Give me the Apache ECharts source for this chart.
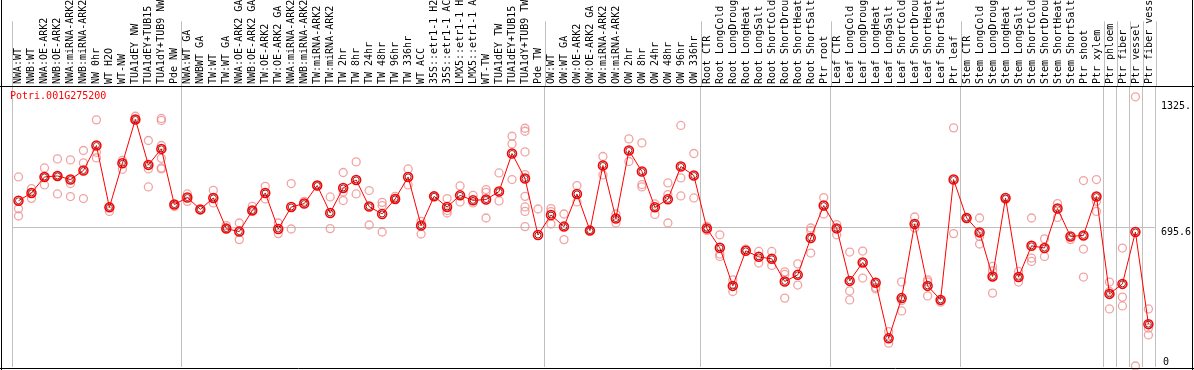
<!DOCTYPE html>
<html><head><meta charset="utf-8">
<script src="https://cdn.jsdelivr.net/npm/echarts@6/dist/echarts.min.js"></script>
<style>html,body{margin:0;padding:0;background:#fff}#c{width:1194px;height:370px}</style>
</head><body><div id="c"></div><script>
const geneTitle = 'Potri.001G275200';
const categories = [
 'NWA:WT','NWB:WT','NWA:OE-ARK2','NWB:OE-ARK2','NWA:miRNA-ARK2','NWB:miRNA-ARK2','NW 0hr','WT H2O','WT-NW','TUA1dEY NW','TUA1dEY+TUB15','TUA1dY+TUB9 NW','Pde NW',
 'NWA:WT GA','NWBWT GA','TW:WT','TW:WT GA','NWA:OE-ARK2 GA','NWB:OE-ARK2 GA','TW:OE-ARK2','TW:OE-ARK2 GA','NWA:miRNA-ARK2','NWB:miRNA-ARK2','TW:miRNA-ARK2','TW:miRNA-ARK2',
 'TW 2hr','TW 8hr','TW 24hr','TW 48hr','TW 96hr','TW 336hr','WT ACC','35S::etr1-1 H2O','35S::etr1-1 ACC','LMX5::etr1-1 H2O','LMX5::etr1-1 ACC','WT-TW','TUA1dEY TW','TUA1dEY+TUB15','TUA1dY+TUB9 TW','Pde TW',
 'OW:WT','OW:WT GA','OW:OE-ARK2','OW:OE-ARK2 GA','OW:miRNA-ARK2','OW:miRNA-ARK2','OW 2hr','OW 8hr','OW 24hr','OW 48hr','OW 96hr','OW 336hr',
 'Root CTR','Root LongCold','Root LongDrought','Root LongHeat','Root LongSalt','Root ShortCold','Root ShortDrought','Root ShortHeat','Root ShortSalt','Ptr root',
 'Leaf CTR','Leaf LongCold','Leaf LongDrought','Leaf LongHeat','Leaf LongSalt','Leaf ShortCold','Leaf ShortDrought','Leaf ShortHeat','Leaf ShortSalt','Ptr leaf',
 'Stem CTR','Stem LongCold','Stem LongDrought','Stem LongHeat','Stem LongSalt','Stem ShortCold','Stem ShortDrought','Stem ShortHeat','Stem ShortSalt','Ptr shoot','Ptr xylem',
 'Ptr phloem','Ptr fiber','Ptr vessel','Ptr fiber vessel'
];
const meanValues = [
 830,869,949,954,936,981,1106,797,1017,1236,1009,1089,811,
 846,787,844,691,676,781,869,689,799,816,906,769,894,934,801,764,839,949,706,852,799,857,832,836,876,1066,941,659,
 759,701,864,681,1006,741,1081,976,797,837,1001,956,
 692,595,405,580,550,540,427,460,644,806,
 692,430,522,421,143,344,714,405,335,936,
 744,672,452,844,449,605,594,791,652,657,851,
 365,415,674,214
];
const replicateValues = [
 [949,790,754],[891,842],[994,909,949],[1039,864,954],[1034,851,916],[1081,1019,841],[1234,1072,1044],[777,797],[1032,987],[1252,1236],[1131,989,899],[1241,1231,1106,1042,994,989],[811,801],
 [864,827],[787],[882,819],[706,691],[719,636],[802,781],[902,839],[719,666],[916,689],[827],[906],[849,691],[971,874,831],[1024,864],[881,709],[822,806,674],[852,839],[989,909],[727,664],[852],[841,781,769],[904,824],[857,819],[886,872,744],[969,829],[1152,1114,936],[1192,1177,1074,961,852,799,777,701],[789],
 [791,776,714],[764,636],[906,824],[681],[1051,959],[764,719],[1139,1026],[1119,911,899],[814,762],[919,861,719],[1206,944,854],[1066,844],
 [702,682],[660,564,552],[435,377],[589],[577,519],[577,507],[475,462,344],[515,409],[694,681,569],[846,764],
 [711,660],[574,380,335],[579,444],[397,390],[177,119],[425,332,280],[749,694],[435,425,355],[324],[1194,666],
 [744],[744,652,614],[502,480,369],[836],[477,424],[744,544,527],[640,552],[816,747],[636],[931,589,449],[936,827,777],
 [424,377,290],[594,349,305],[1349,5],[290,194,160]
];
const groupStarts = [0,13,41,53,63,73,84,85,86,87,88];
const yTickValues = [0, 695.6, 1325];
const yTickLabels = ['0', '695.6', '1325.'];
const refLineValue = 695.6;

const mono = 'DejaVu Sans Mono';
const chart = echarts.init(document.getElementById('c'), null, {renderer: 'canvas'});
const repData = [];
replicateValues.forEach((arr, i) => arr.forEach(v => repData.push([i, v])));
const meanData = meanValues.map((v, i) => [i, v]);
const labelFor = v => yTickLabels[yTickValues.indexOf(v)] ?? String(v);
const gridSplit = {show: true, interval: (i) => groupStarts.includes(i), lineStyle: {color: '#c0c0c0', width: 1}};

chart.setOption({
  animation: false,
  backgroundColor: '#fff',
  title: {text: geneTitle, left: 10, top: 91, padding: 0,
    textStyle: {color: '#ff0000', fontSize: 10, fontFamily: mono, fontWeight: 'normal'}},
  grid: [
    {left: 12, top: 86, width: 1144, height: 281},
    {left: 12, top: 0, width: 1144, height: 86}
  ],
  xAxis: [
    {type: 'category', gridIndex: 0, data: categories, boundaryGap: true,
     axisLine: {show: false}, axisTick: {show: false}, axisLabel: {show: false}, splitLine: gridSplit},
    {type: 'category', gridIndex: 1, data: categories, boundaryGap: true,
     axisLine: {show: false}, axisTick: {show: false}, splitLine: gridSplit,
     axisLabel: {show: true, inside: true, rotate: 90, interval: 0, margin: 2,
       fontFamily: mono, fontSize: 10, color: '#000'}}
  ],
  yAxis: [
    {type: 'value', gridIndex: 0, min: 0, max: 1403, position: 'right',
     axisLine: {show: false}, axisTick: {show: false}, splitLine: {show: false},
     axisLabel: {customValues: yTickValues.slice(1), formatter: labelFor, verticalAlign: 'top',
       margin: 6, fontFamily: mono, fontSize: 10, color: '#000'}},
    {type: 'value', gridIndex: 0, min: 0, max: 1403, position: 'right',
     axisLine: {show: false}, axisTick: {show: false}, splitLine: {show: false},
     axisLabel: {customValues: yTickValues.slice(0, 1), formatter: labelFor, verticalAlign: 'bottom',
       margin: 8, fontFamily: mono, fontSize: 10, color: '#000'}},
    {type: 'value', gridIndex: 1, show: false}
  ],
  series: [
    {type: 'scatter', xAxisIndex: 0, yAxisIndex: 0, data: repData, symbol: 'circle', symbolSize: 8,
     silent: true, z: 2,
     itemStyle: {color: 'rgba(0,0,0,0)', borderColor: '#ee8c8c', borderWidth: 1.3}},
    {type: 'line', xAxisIndex: 0, yAxisIndex: 0, data: meanData, symbol: 'circle', symbolSize: 9,
     showAllSymbol: true, silent: true, z: 3,
     lineStyle: {color: '#ff0000', width: 1},
     itemStyle: {color: 'rgba(0,0,0,0)', borderColor: '#ff0000', borderWidth: 1.5},
     markLine: {silent: true, symbol: 'none', label: {show: false}, z: 1,
       lineStyle: {color: '#c0c0c0', width: 1, type: 'solid'}, data: [{yAxis: refLineValue}]}},
    {type: 'scatter', xAxisIndex: 0, yAxisIndex: 0, data: meanData, symbol: 'circle', symbolSize: 6,
     silent: true, z: 4,
     itemStyle: {color: 'rgba(0,0,0,0)', borderColor: '#600000', borderWidth: 1}}
  ],
  graphic: [
    {type: 'line', shape: {x1: 1.5, y1: 0, x2: 1.5, y2: 370}, style: {stroke: '#000', lineWidth: 1}, z: 100},
    {type: 'line', shape: {x1: 1192.5, y1: 0, x2: 1192.5, y2: 370}, style: {stroke: '#000', lineWidth: 1}, z: 100},
    {type: 'line', shape: {x1: 0, y1: 86.5, x2: 1194, y2: 86.5}, style: {stroke: '#000', lineWidth: 1}, z: 100},
    {type: 'line', shape: {x1: 0, y1: 368.5, x2: 1194, y2: 368.5}, style: {stroke: '#000', lineWidth: 1}, z: 100}
  ]
});
</script></body></html>
